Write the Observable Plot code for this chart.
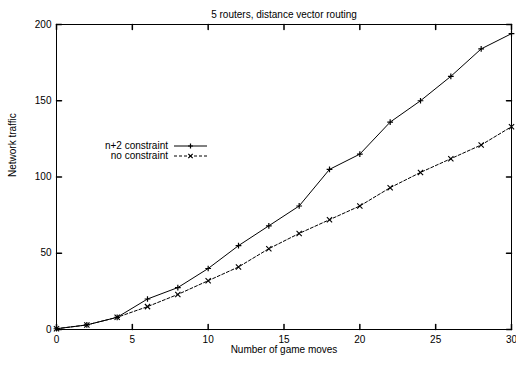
<!DOCTYPE html>
<html>
<head>
<meta charset="utf-8">
<script src="https://cdn.jsdelivr.net/npm/d3@7"></script>
<script src="https://cdn.jsdelivr.net/npm/@observablehq/plot@0.6"></script>
<style>
  html, body { margin: 0; padding: 0; background: #fff; }
  #chart { width: 516px; height: 365px; }
</style>
</head>
<body>
<div id="chart"></div>
<script>
const title = "5 routers, distance vector routing";
const xLabel = "Number of game moves";
const yLabel = "Network traffic";
const moves = [0, 2, 4, 6, 8, 10, 12, 14, 16, 18, 20, 22, 24, 26, 28, 30];
const withConstraint = [0.5, 3, 8, 20, 27.5, 40, 55, 68, 81, 105, 115, 136, 150, 166, 184, 194];
const noConstraint = [0.5, 3, 8, 15, 23, 32, 41, 53, 63, 72, 81, 93, 103, 112, 121, 133];
const seriesNames = ["n+2 constraint", "no constraint"];
const xTicks = [0, 5, 10, 15, 20, 25, 30];
const yTicks = [0, 50, 100, 150, 200];

const s1 = moves.map((m, i) => ({x: m, y: withConstraint[i]}));
const s2 = moves.map((m, i) => ({x: m, y: noConstraint[i]}));

const tickLen = 5;
const tickShape = {draw(ctx, l) { ctx.moveTo(0, 0); ctx.lineTo(0, -l); }};

function legendMark(index, scales, values, dims) {
  const g = d3.create("svg:g").attr("font-size", 10).attr("fill", "black");
  const rows = [
    {name: seriesNames[0], y: 146, dash: null, sym: "plus"},
    {name: seriesNames[1], y: 156, dash: "3,2", sym: "times"}
  ];
  for (const r of rows) {
    g.append("text").attr("x", 168).attr("y", r.y).attr("dy", "0.32em")
      .attr("text-anchor", "end").text(r.name);
    g.append("line").attr("x1", 174).attr("x2", 207).attr("y1", r.y).attr("y2", r.y)
      .attr("stroke", "black").attr("stroke-dasharray", r.dash);
    const c = 190.5, h = 2.5;
    const p = r.sym === "plus"
      ? `M${c - h},${r.y}H${c + h}M${c},${r.y - h}V${r.y + h}`
      : `M${c - 2.2},${r.y - 2.2}L${c + 2.2},${r.y + 2.2}M${c - 2.2},${r.y + 2.2}L${c + 2.2},${r.y - 2.2}`;
    g.append("path").attr("d", p).attr("stroke", "black").attr("stroke-width", 1.2).attr("fill", "none");
  }
  return g.node();
}

const plot = Plot.plot({
  width: 516,
  height: 365,
  marginLeft: 56,
  marginRight: 5,
  marginTop: 24,
  marginBottom: 36,
  style: {fontFamily: "'Liberation Sans', Arial, sans-serif", fontSize: "10px", background: "white", color: "black"},
  x: {domain: [0, 30]},
  y: {domain: [0, 200]},
  marks: [
    Plot.frame({stroke: "black", strokeWidth: 1}),
    Plot.axisX(xTicks, {tickSize: 0, tickPadding: 6, label: null, fontSize: 10}),
    Plot.axisY(yTicks, {tickSize: 0, tickPadding: 5, label: null, fontSize: 10}),
    Plot.vector(xTicks, {x: d => d, frameAnchor: "bottom", rotate: 0, length: tickLen, anchor: "start", shape: tickShape, stroke: "black"}),
    Plot.vector(xTicks, {x: d => d, frameAnchor: "top", rotate: 180, length: tickLen, anchor: "start", shape: tickShape, stroke: "black"}),
    Plot.vector(yTicks, {y: d => d, frameAnchor: "left", rotate: 90, length: tickLen, anchor: "start", shape: tickShape, stroke: "black"}),
    Plot.vector(yTicks, {y: d => d, frameAnchor: "right", rotate: -90, length: tickLen, anchor: "start", shape: tickShape, stroke: "black"}),
    Plot.line(s1, {x: "x", y: "y", stroke: "black", strokeWidth: 1}),
    Plot.line(s2, {x: "x", y: "y", stroke: "black", strokeWidth: 1, strokeDasharray: "3,2"}),
    Plot.dot(s1, {x: "x", y: "y", symbol: "plus", r: 2, stroke: "black", strokeWidth: 1.2}),
    Plot.dot(s2, {x: "x", y: "y", symbol: "times", r: 2.5, stroke: "black", strokeWidth: 1.1}),
    Plot.text([title], {text: d => d, frameAnchor: "top", dy: -14, fontSize: 10}),
    Plot.text([xLabel], {text: d => d, frameAnchor: "bottom", dy: 23, fontSize: 10}),
    Plot.text([yLabel], {text: d => d, frameAnchor: "left", dx: -44, rotate: -90, fontSize: 10}),
    legendMark
  ]
});
document.getElementById("chart").appendChild(plot);
</script>
</body>
</html>
